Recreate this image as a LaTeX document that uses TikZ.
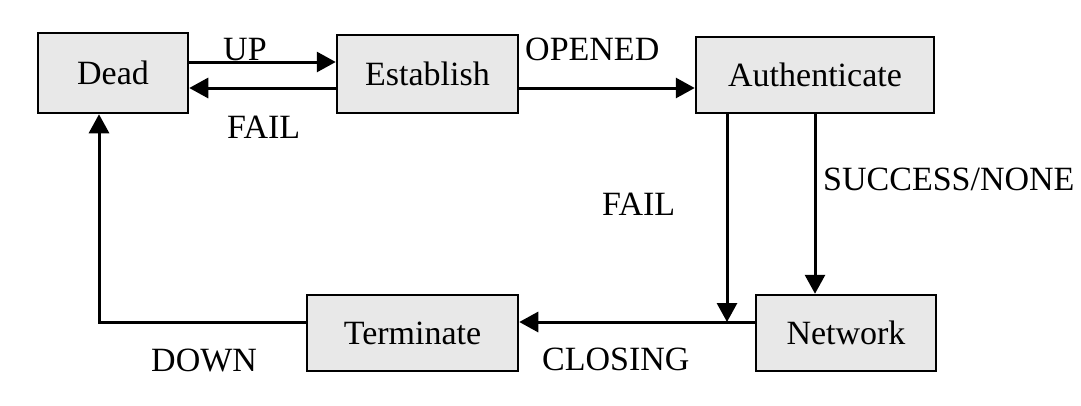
\documentclass[tikz,border=0pt]{standalone}
\usepackage{fontspec}
\setmainfont{Liberation Serif}
\usetikzlibrary{arrows.meta}
\definecolor{boxgray}{HTML}{E8E8E8}
\begin{document}
\begin{tikzpicture}[x=1pt,y=-1pt,
  state/.style={draw=black,line width=2.5pt,fill=boxgray,inner sep=0pt,
    font=\fontsize{34}{40}\selectfont},
  arr/.style={line width=3pt,-{Triangle[length=19pt,width=20pt]}},
  lbl/.style={inner sep=0pt,anchor=base west,font=\fontsize{34}{40}\selectfont}]
\useasboundingbox (0,0) rectangle (1081,405);
\node[state,minimum width=150pt,minimum height=80pt] (dead) at (113,73) {Dead};
\node[state,minimum width=181pt,minimum height=78pt] (est) at (427.5,74) {Establish};
\node[state,minimum width=238pt,minimum height=76pt] (auth) at (815,75) {Authenticate};
\node[state,minimum width=180pt,minimum height=76pt] (net) at (846,333) {Network};
\node[state,minimum width=211pt,minimum height=76pt] (term) at (412.5,333) {Terminate\hspace{14pt}};
\coordinate (j) at (727,322);
\coordinate (c) at (99,322);
\draw[arr] (dead.east |- 0,62) -- (est.west |- 0,62);
\draw[arr] (est.west |- 0,88) -- (dead.east |- 0,88);
\draw[arr] (est.east |- 0,88) -- (auth.west |- 0,88);
\draw[arr] (auth.south -| j) -- (j);
\draw[arr] (auth.south) -- (net.north -| auth.south);
\draw[arr] (net.west |- j) -- (term.east |- j);
\draw[arr] (term.west |- c) -- (c) -- (dead.south -| c);
\node[lbl] (lup) at (223,60) {UP};
\node[lbl] (lfail1) at (227,138) {FAIL};
\node[lbl] (lopen) at (525,60) {OPENED};
\node[lbl] (lfail2) at (602,215) {FAIL};
\node[lbl] (lsucc) at (823,190) {SUCCESS/NONE};
\node[lbl] (lclose) at (542,370) {CLOSING};
\node[lbl] (ldown) at (151,371) {DOWN};
\end{tikzpicture}
\end{document}
